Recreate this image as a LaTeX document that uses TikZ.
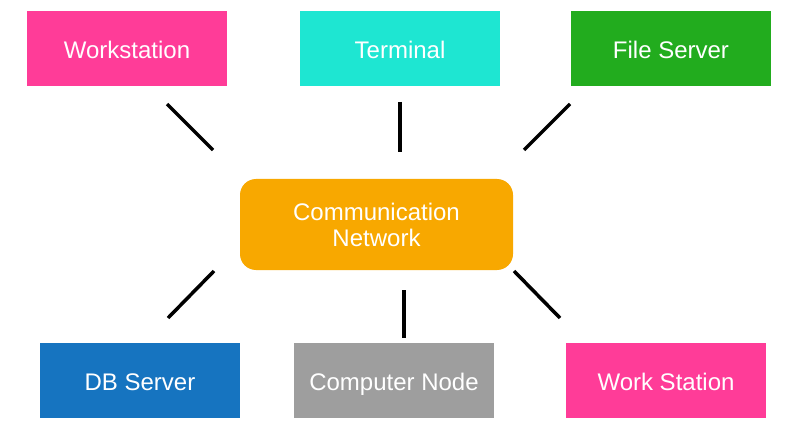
\documentclass[tikz,border=0pt]{standalone}
\usepackage{fontspec}
\setmainfont{Liberation Sans}
\definecolor{cpink}{RGB}{255,60,152}
\definecolor{cturq}{RGB}{30,230,210}
\definecolor{cgreen}{RGB}{34,172,30}
\definecolor{corange}{RGB}{248,168,0}
\definecolor{cblue}{RGB}{22,116,192}
\definecolor{cgray}{RGB}{158,158,158}
\begin{document}
\begin{tikzpicture}[x=1pt,y=-1pt,
  box/.style={draw=none,minimum width=200pt,minimum height=75pt,inner sep=0pt,
    text=white,font=\fontsize{24}{26}\selectfont,align=center},
  single/.style={text height=20pt,text depth=0pt},
  link/.style={line width=3.5pt,black}]
\useasboundingbox[fill=white] (0,0) rectangle (787,422);
\node[box,single,fill=cpink] (ws) at (127,49) {Workstation};
\node[box,single,fill=cturq] (term) at (400,49) {Terminal};
\node[box,single,fill=cgreen] (fs) at (671,49) {File Server};
\node[box,fill=corange,rounded corners=16pt,minimum width=273pt,minimum height=91pt] (cn) at (376.5,224.5) {Communication\\Network};
\node[box,single,fill=cblue] (db) at (140,380) {DB Server};
\node[box,single,fill=cgray] (cnode) at (394,380) {Computer Node};
\node[box,single,fill=cpink] (ws2) at (666,380) {Work Station};
\coordinate (a1) at (167,104); \coordinate (a2) at (213,150);
\coordinate (b1) at (400,102); \coordinate (b2) at (400,152);
\coordinate (c1) at (570,104); \coordinate (c2) at (524,150);
\coordinate (d1) at (214,271); \coordinate (d2) at (168,318);
\coordinate (e1) at (404,290); \coordinate (e2) at (404,338);
\coordinate (f1) at (514,271); \coordinate (f2) at (560,318);
\draw[link] (a1) -- (a2);
\draw[link] (b1) -- (b2);
\draw[link] (c1) -- (c2);
\draw[link] (d1) -- (d2);
\draw[link] (e1) -- (e2);
\draw[link] (f1) -- (f2);
\end{tikzpicture}
\end{document}
